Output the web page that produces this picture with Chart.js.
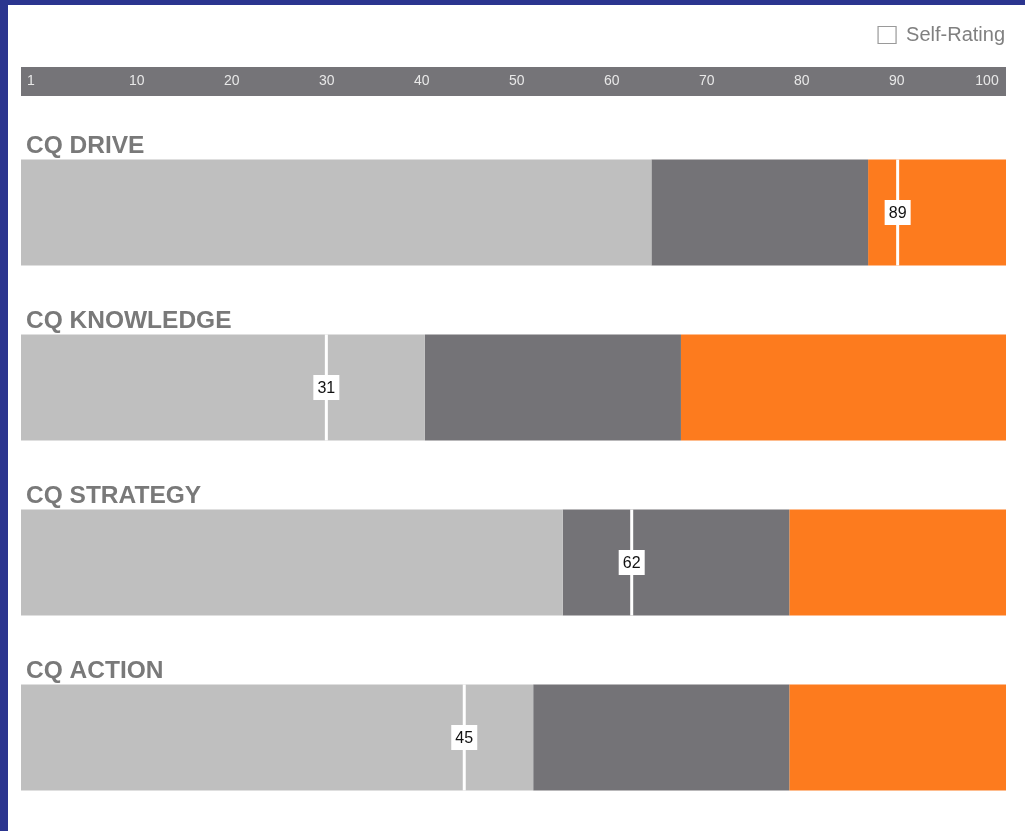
<!DOCTYPE html>
<html>
<head>
<meta charset="utf-8">
<script src="https://cdn.jsdelivr.net/npm/chart.js@4.4.1/dist/chart.umd.min.js"></script>
<style>
  html, body { margin: 0; padding: 0; background: #2b358f; width: 1025px; height: 831px; overflow: hidden; }
  #panel { position: absolute; left: 8px; top: 5px; width: 1017px; height: 826px; background: #ffffff; }
  canvas { display: block; }
</style>
</head>
<body>
<div id="panel"><canvas id="c" width="1017" height="826"></canvas></div>
<script>
// ---- data ----
const categories = ['CQ DRIVE', 'CQ KNOWLEDGE', 'CQ STRATEGY', 'CQ ACTION'];
const lowRange  = [64, 41, 55, 52];   // light grey segment
const midRange  = [22, 26, 23, 26];   // dark grey segment
const highRange = [14, 33, 22, 22];   // orange segment
const selfRating = [89, 31, 62, 45];
const tickLabels = ['1', '10', '20', '30', '40', '50', '60', '70', '80', '90', '100'];

const FONT = '"Liberation Sans", Arial, Helvetica, sans-serif';
const PLOT_TOP = 120; // canvas px where the rows area begins

const bandPlugin = {
  id: 'band',
  beforeDraw(chart) {
    const s = chart.scales.xTicks;
    const ca = chart.chartArea;
    const ctx = chart.ctx;
    ctx.save();
    ctx.fillStyle = '#757478';
    ctx.fillRect(ca.left, s.bottom - 58, ca.right - ca.left, 29);
    ctx.restore();
  }
};

const markerLabelPlugin = {
  id: 'markerLabels',
  afterDatasetsDraw(chart) {
    const ctx = chart.ctx;
    const meta = chart.getDatasetMeta(3);
    ctx.save();
    ctx.font = '16px ' + FONT;
    ctx.textAlign = 'center';
    ctx.textBaseline = 'middle';
    meta.data.forEach((pt, i) => {
      ctx.fillStyle = '#ffffff';
      ctx.fillRect(pt.x - 13, pt.y - 12.5, 26, 25);
      ctx.fillStyle = '#111111';
      ctx.fillText(String(selfRating[i]), pt.x, pt.y + 1);
    });
    ctx.restore();
  }
};

const titlePlugin = {
  id: 'rowTitles',
  afterDraw(chart) {
    const ctx = chart.ctx;
    const meta = chart.getDatasetMeta(0);
    ctx.save();
    ctx.font = 'bold 24.5px ' + FONT;
    ctx.fillStyle = '#797979';
    ctx.textAlign = 'left';
    ctx.textBaseline = 'alphabetic';
    meta.data.forEach((bar, i) => {
      ctx.fillText(categories[i], chart.chartArea.left + 5, bar.y - bar.height / 2 - 7);
    });
    ctx.restore();
  }
};

new Chart(document.getElementById('c'), {
  type: 'bar',
  data: {
    labels: categories,
    datasets: [
      { label: 'Low', data: lowRange, backgroundColor: '#bfbfbf', stack: 'range', order: 2 },
      { label: 'Mid', data: midRange, backgroundColor: '#747377', stack: 'range', order: 2 },
      { label: 'High', data: highRange, backgroundColor: '#fd7b1e', stack: 'range', order: 2 },
      {
        type: 'line', label: 'Self-Rating', data: selfRating, indexAxis: 'y',
        stack: 'markers', order: 0, showLine: false,
        pointStyle: 'line', rotation: 90, pointRadius: 53, pointHoverRadius: 53,
        pointBorderWidth: 3, pointBorderColor: '#ffffff', borderColor: '#ffffff',
        backgroundColor: '#ffffff', clip: false
      }
    ]
  },
  options: {
    indexAxis: 'y',
    responsive: false,
    animation: false,
    events: [],
    layout: { autoPadding: false, padding: { left: 13, right: 0, top: 0, bottom: 6 } },
    datasets: { bar: { barPercentage: 1, categoryPercentage: 106 / 175 } },
    scales: {
      x: { type: 'linear', min: 0, max: 100, stacked: true, display: false },
      xTicks: {
        type: 'linear', position: 'top', min: -2.18, max: 101.5,
        grid: { display: false, drawTicks: false },
        border: { display: false },
        afterBuildTicks(s) {
          const last = tickLabels.length - 1;
          s.ticks = tickLabels.map((t, i) => ({
            value: i === 0 ? s.min + 1.05 : (i === last ? s.max - 2 : Number(t))
          }));
        },
        afterFit(s) {
          const lg = s.chart.legend;
          s.height = PLOT_TOP - (lg && lg.height ? lg.height : 50);
          s.paddingLeft = 0;
          s.paddingRight = 0;
        },
        ticks: {
          autoSkip: false, maxRotation: 0, crossAlign: 'center', padding: 43.5,
          color: '#e8e8e8', font: { family: FONT, size: 14, lineHeight: 1.893 },
          callback: (v, i) => tickLabels[i]
        }
      },
      y: {
        type: 'category', position: 'right', stacked: true,
        grid: { display: false }, border: { display: false },
        ticks: { display: false },
        afterFit(s) { s.width = 19; }
      }
    },
    plugins: {
      tooltip: { enabled: false },
      legend: {
        position: 'top', align: 'end',
        labels: {
          boxWidth: 18, boxHeight: 17, padding: 20, color: '#808080',
          font: { family: FONT, size: 20 },
          filter: (item) => item.datasetIndex === 3,
          generateLabels(chart) {
            return Chart.defaults.plugins.legend.labels.generateLabels(chart).map(it => Object.assign(it, {
              fillStyle: '#ffffff', strokeStyle: '#9a9a9a', lineWidth: 1.2, pointStyle: 'rect'
            }));
          }
        }
      }
    }
  },
  plugins: [bandPlugin, markerLabelPlugin, titlePlugin]
});
</script>
</body>
</html>
